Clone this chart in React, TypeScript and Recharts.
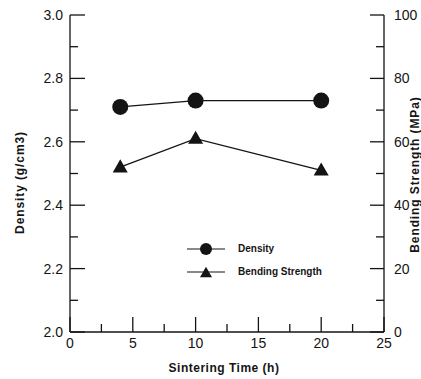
import { ComposedChart, Line, XAxis, YAxis } from 'recharts'

const ink = '#141414'
const font = '"Liberation Sans", Arial, Helvetica, sans-serif'

const times = [4, 10, 20]
const density = [2.71, 2.73, 2.73]
const bending = [52, 61, 51]

const xTicks = [0, 2.5, 5, 7.5, 10, 12.5, 15, 17.5, 20, 22.5, 25]
const densityTicks = [2.0, 2.1, 2.2, 2.3, 2.4, 2.5, 2.6, 2.7, 2.8, 2.9, 3.0]
const strengthTicks = [0, 10, 20, 30, 40, 50, 60, 70, 80, 90, 100]
const legendItems = [
  { key: 'density', label: 'Density' },
  { key: 'bending', label: 'Bending Strength' },
]

const data = times.map((t, i) => ({ time: t, density: density[i], bending: bending[i] }))

// eslint-disable-next-line @typescript-eslint/no-explicit-any
const XTick = ({ x, y, payload }: any) => {
  const major = payload.value % 5 === 0
  return (
    <g>
      <line x1={x} x2={x} y1={y} y2={y - (major ? 15 : 8)} stroke={ink} strokeWidth={1.3} />
      {major && (
        <text x={x} y={y + 16} textAnchor="middle" fontSize={14} fill={ink} fontFamily={font}>
          {payload.value}
        </text>
      )}
    </g>
  )
}

// eslint-disable-next-line @typescript-eslint/no-explicit-any
const LeftTick = ({ x, y, payload }: any) => {
  const major = Math.round(payload.value * 10) % 2 === 0
  return (
    <g>
      <line x1={x} x2={x + (major ? 15 : 8)} y1={y} y2={y} stroke={ink} strokeWidth={1.3} />
      {major && (
        <text x={x - 7} y={y + 5} textAnchor="end" fontSize={14} fill={ink} fontFamily={font}>
          {payload.value.toFixed(1)}
        </text>
      )}
    </g>
  )
}

// eslint-disable-next-line @typescript-eslint/no-explicit-any
const RightTick = ({ x, y, payload }: any) => {
  const major = payload.value % 20 === 0
  return (
    <g>
      <line x1={x} x2={x - (major ? 14 : 8)} y1={y} y2={y} stroke={ink} strokeWidth={1.3} />
      {major && (
        <text x={x + 10} y={y + 5} textAnchor="start" fontSize={14} fill={ink} fontFamily={font}>
          {payload.value}
        </text>
      )}
    </g>
  )
}

const Circle = ({ cx, cy, r }: { cx: number; cy: number; r: number }) => <circle cx={cx} cy={cy} r={r} fill={ink} />
const Triangle = ({ cx, cy, s }: { cx: number; cy: number; s: number }) => {
  const h = s * 0.87
  return <polygon points={`${cx},${cy - h * 0.6} ${cx - s / 2},${cy + h * 0.4} ${cx + s / 2},${cy + h * 0.4}`} fill={ink} />
}

// eslint-disable-next-line @typescript-eslint/no-explicit-any
const densityDot = (p: any) => <Circle key={`d${p.index}`} cx={p.cx} cy={p.cy} r={8} />
// eslint-disable-next-line @typescript-eslint/no-explicit-any
const bendingDot = (p: any) => <Triangle key={`b${p.index}`} cx={p.cx} cy={p.cy} s={15} />

const titleStyle = { fontSize: 12, fontWeight: 700, fill: ink, fontFamily: font, letterSpacing: 0.9 }

// eslint-disable-next-line @typescript-eslint/no-explicit-any
const LeftTitle = ({ viewBox }: any) => {
  const x = viewBox.x + 12
  const y = viewBox.y + viewBox.height / 2 + 9
  return <text x={x} y={y} transform={`rotate(-90 ${x} ${y})`} textAnchor="middle" dominantBaseline="central" {...titleStyle}>Density (g/cm3)</text>
}

// eslint-disable-next-line @typescript-eslint/no-explicit-any
const RightTitle = ({ viewBox }: any) => {
  const x = viewBox.x + 31
  const y = viewBox.y + viewBox.height / 2 + 1
  return <text x={x} y={y} transform={`rotate(-90 ${x} ${y})`} textAnchor="middle" dominantBaseline="central" {...titleStyle}>Bending Strength (MPa)</text>
}

export default function App() {
  return (
    <div style={{ position: 'absolute', left: 0, top: 0, width: 421, height: 379, background: '#fff' }}>
      <ComposedChart width={421} height={379} data={data} margin={{ top: 15, right: 0, bottom: 0, left: 8 }}>
        <XAxis xAxisId="top" orientation="top" dataKey="time" type="number" domain={[0, 25]} height={0}
          tick={false} tickLine={false} axisLine={{ stroke: ink, strokeWidth: 1.3 }} />
        <XAxis xAxisId="bottom" dataKey="time" type="number" domain={[0, 25]} ticks={xTicks} interval={0}
          height={47} tickSize={0} tickMargin={0} tickLine={false} tick={<XTick />}
          axisLine={{ stroke: ink, strokeWidth: 1.3 }}
          label={{ value: 'Sintering Time (h)', position: 'insideBottom', offset: 7, dx: -3, style: { ...titleStyle, letterSpacing: 0.5 } }} />
        <YAxis yAxisId="left" domain={[2, 3]} ticks={densityTicks} interval={0} width={62}
          tickSize={0} tickMargin={0} tickLine={false} tick={<LeftTick />}
          axisLine={{ stroke: ink, strokeWidth: 1.3 }} label={<LeftTitle />} />
        <YAxis yAxisId="right" orientation="right" domain={[0, 100]} ticks={strengthTicks} interval={0} width={37}
          tickSize={0} tickMargin={0} tickLine={false} tick={<RightTick />}
          axisLine={{ stroke: ink, strokeWidth: 1.3 }} label={<RightTitle />} />
        <Line xAxisId="bottom" yAxisId="left" dataKey="density" name="Density" stroke={ink} strokeWidth={1.3}
          dot={densityDot} activeDot={false} isAnimationActive={false} />
        <Line xAxisId="bottom" yAxisId="right" dataKey="bending" name="Bending Strength" stroke={ink} strokeWidth={1.3}
          dot={bendingDot} activeDot={false} isAnimationActive={false} />
      </ComposedChart>
      <div style={{ position: 'absolute', left: 187, top: 237, fontFamily: font }}>
        {legendItems.map(it => (
          <div key={it.key} style={{ display: 'flex', alignItems: 'center', height: 23 }}>
            <svg width={38} height={16}>
              <line x1={0} x2={38} y1={8} y2={8} stroke={ink} strokeWidth={1.2} />
              {it.key === 'density' ? <Circle cx={19} cy={8} r={6} /> : <Triangle cx={19} cy={9} s={12} />}
            </svg>
            <span style={{ marginLeft: 13, fontSize: 10, fontWeight: 700, color: ink }}>{it.label}</span>
          </div>
        ))}
      </div>
    </div>
  )
}
